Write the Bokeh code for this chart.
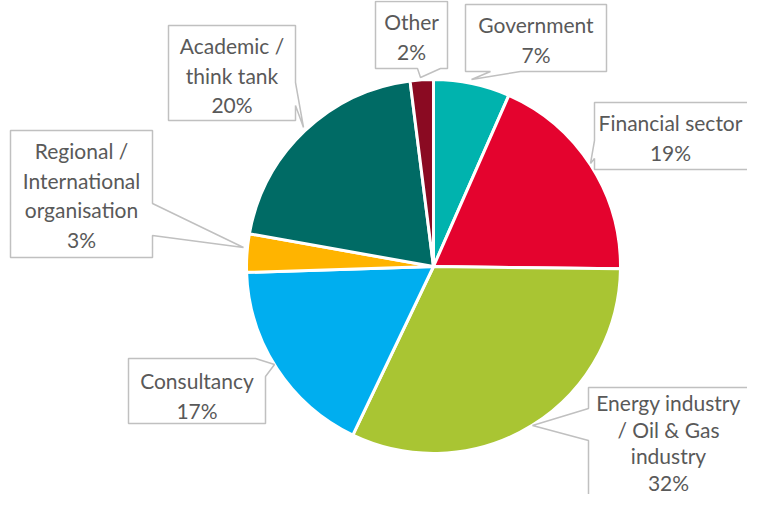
import math
from bokeh.plotting import figure
from bokeh.models import Range1d, ColumnDataSource
from bokeh.embed import file_html
from bokeh.resources import INLINE
from bokeh.core.properties import value

# ---- data ----
categories = ["Government", "Financial sector", "Energy industry / Oil & Gas industry",
              "Consultancy", "Regional / International organisation",
              "Academic / think tank", "Other"]
label_lines = [["Government"], ["Financial sector"], ["Energy industry", "/ Oil & Gas", "industry"],
               ["Consultancy"], ["Regional /", "International", "organisation"],
               ["Academic /", "think tank"], ["Other"]]
shares = [6.6, 18.6, 31.9, 17.4, 3.3, 20.2, 2.0]
colors = ["#00B3AE", "#E4032E", "#A9C533", "#00AEEF", "#FFB400", "#006B65", "#8A0A22"]

# ---- layout (pixel coordinates inside the figure) ----
W, H = 747, 494
TOP = 510
def Y(sy):
    return TOP - sy

CX, CY, R = 433, 266, 187

p = figure(width=W, height=H, output_backend="svg", toolbar_location=None,
           x_range=Range1d(0, W), y_range=Range1d(Y(H), Y(0)),
           min_border=0)
p.axis.visible = False
p.grid.visible = False
p.outline_line_color = None
p.background_fill_color = "white"

total = sum(shares)
cum = 0.0
starts, ends = [], []
for s in shares:
    a0 = math.pi / 2 - 2 * math.pi * (cum + s) / total
    a1 = math.pi / 2 - 2 * math.pi * cum / total
    starts.append(a0)
    ends.append(a1)
    cum += s

src = ColumnDataSource(dict(x=[CX] * len(shares), y=[Y(CY)] * len(shares),
                            start=starts, end=ends, color=colors, cat=categories))
p.wedge(x="x", y="y", radius=R, start_angle="start", end_angle="end",
        direction="anticlock", fill_color="color", line_color="white",
        line_width=3, source=src)

# ---- callout boxes ----
def callout(L, T, Rr, B, side, a, b, tip):
    pts = [(L, T)]
    if side == "corner":
        pts += [(a, T), tip, (Rr, b)]
    else:
        pts.append((Rr, T))
    if side == "right":
        pts += [(Rr, a), tip, (Rr, b)]
    pts.append((Rr, B))
    if side == "bottom":
        pts += [(b, B), tip, (a, B)]
    pts.append((L, B))
    if side == "left":
        pts += [(L, b), tip, (L, a)]
    return [q[0] for q in pts], [Y(q[1]) for q in pts]

# L, T, R, B, notch side, notch a, notch b, tip, text centre x, text first-line y, line step
boxes = [
    (465, 4, 606, 71, "bottom", 490, 520, (471, 79), 535.5, 24, 29.5),      # Government
    (594, 102, 780, 169, "left", 140, 158, (590, 163), 670, 122, 29.5),     # Financial
    (588, 387, 758, 525, "left", 408, 440, (532, 425), 668, 402, 26.5),     # Energy
    (128, 358, 265, 423, "corner", 255, 376, (274, 364), 196.5, 380, 29.5), # Consultancy
    (10, 130, 152, 257, "right", 203, 235, (243, 247), 81, 150, 29.5),      # Regional
    (168, 25, 295, 120, "right", 82, 105, (303, 127), 231.5, 45, 29.5),     # Academic
    (375, 1, 447, 68, "bottom", 417, 440, (420, 77), 411, 21, 29.5),        # Other
]

xs, ys = [], []
tx, ty, tt = [], [], []
for i, (L, T, Rr, B, side, a, b, tip, cx, y0, lh) in enumerate(boxes):
    px, py = callout(L, T, Rr, B, side, a, b, tip)
    xs.append(px)
    ys.append(py)
    lines = label_lines[i] + ["%d%%" % round(shares[i])]
    for k, ln in enumerate(lines):
        tx.append(cx)
        ty.append(Y(y0 + k * lh))
        tt.append(ln)

p.patches(xs=xs, ys=ys, fill_color="white", line_color="#C0C0C0", line_width=1.5)
p.text(x=tx, y=ty, text=tt, text_align="center", text_baseline="middle",
       text_font=value("Lato"), text_font_size="21px", text_color="#595959")

open("out.html", "w").write(file_html(p, INLINE))
